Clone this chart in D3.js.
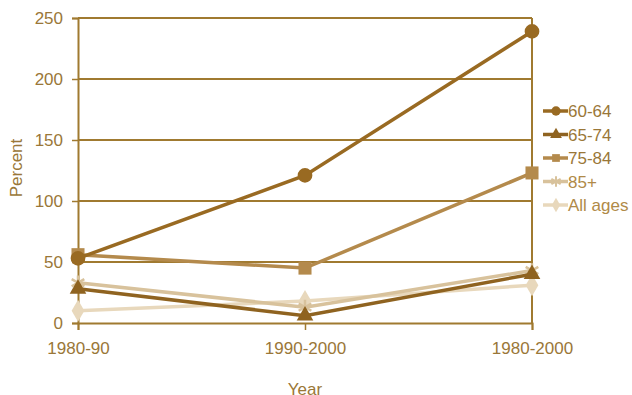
<!DOCTYPE html>
<html>
<head>
<meta charset="utf-8">
<script src="https://cdn.jsdelivr.net/npm/d3@7/dist/d3.min.js"></script>
<style>
  body { margin: 0; background: #fff; }
  svg { display: block; font-family: "Liberation Sans", Arial, sans-serif; }
</style>
</head>
<body>
<svg id="chart" width="632" height="395"></svg>
<script>
// periods on the x axis
const periods = ['1980-90', '1990-2000', '1980-2000'];
const yTicks = [0, 50, 100, 150, 200, 250];

// percent change per age group
const age6064 = [53, 121, 239];
const age6574 = [28, 6, 40];
const age7584 = [56, 45, 123];
const age85 = [33, 13, 43];
const allAges = [10, 18, 31];

const seriesNames = ['60-64', '65-74', '75-84', '85+', 'All ages'];
const seriesValues = [age6064, age6574, age7584, age85, allAges];
const seriesColors = ['#996a22', '#8f6320', '#b48a4c', '#d8c29c', '#e8d8bc'];
const seriesSymbols = ['circle', 'triangle', 'square', 'star', 'diamond'];

const axisColor = '#a07a30';
const textColor = '#9a7738';

const svg = d3.select('#chart');
const margin = { left: 78, right: 100, top: 18, bottom: 72 };
const width = 632 - margin.left - margin.right;
const height = 395 - margin.top - margin.bottom;

const x = d3.scalePoint().domain(periods).range([0, width]);
const y = d3.scaleLinear().domain([0, 250]).range([height, 0]);

const g = svg.append('g').attr('transform', `translate(${margin.left},${margin.top})`);

// cut-off title at the very top
svg.append('text')
  .attr('x', 390).attr('y', -4)
  .attr('text-anchor', 'middle')
  .attr('fill', textColor)
  .style('font-size', '17px')
  .text('Percentage change in population by age group');

// horizontal gridlines
g.selectAll('.grid')
  .data(yTicks.filter(d => d > 0))
  .join('line')
  .attr('x1', 0).attr('x2', width)
  .attr('y1', d => y(d)).attr('y2', d => y(d))
  .attr('stroke', axisColor).attr('stroke-width', 2);

// right border
g.append('line')
  .attr('x1', width).attr('x2', width)
  .attr('y1', 0).attr('y2', height)
  .attr('stroke', axisColor).attr('stroke-width', 2);

// y axis
const yAxis = g.append('g')
  .call(d3.axisLeft(y).tickValues(yTicks).tickSize(6).tickPadding(9));
yAxis.select('.domain').attr('stroke', axisColor).attr('stroke-width', 2);
yAxis.selectAll('.tick line').attr('stroke', axisColor).attr('stroke-width', 1.5);
yAxis.selectAll('.tick text').attr('fill', textColor).style('font-size', '17px');

// x axis
const xAxis = g.append('g')
  .attr('transform', `translate(0,${height})`)
  .call(d3.axisBottom(x).tickSize(7).tickPadding(12));
xAxis.select('.domain').attr('stroke', axisColor).attr('stroke-width', 2);
xAxis.selectAll('.tick line').attr('stroke', axisColor).attr('stroke-width', 1.5);
xAxis.selectAll('.tick text').attr('fill', textColor).style('font-size', '17px');

// axis titles
svg.append('text')
  .attr('transform', 'translate(22,168) rotate(-90)')
  .attr('text-anchor', 'middle')
  .attr('fill', textColor)
  .style('font-size', '17px')
  .text('Percent');

svg.append('text')
  .attr('x', margin.left + x('1990-2000')).attr('y', 395)
  .attr('text-anchor', 'middle')
  .attr('fill', textColor)
  .style('font-size', '17px')
  .text('Year');

function symbolPath(kind, size) {
  const types = {
    circle: d3.symbolCircle,
    triangle: d3.symbolTriangle,
    square: d3.symbolSquare,
    star: d3.symbolAsterisk,
    diamond: d3.symbolDiamond
  };
  return d3.symbol().type(types[kind]).size(size)();
}

const markerSize = { circle: 170, triangle: 120, square: 170, star: 150, diamond: 140 };
const legendSize = { circle: 70, triangle: 60, square: 60, star: 80, diamond: 60 };

const line = d3.line().x((d, i) => x(periods[i])).y(d => y(d));

// draw from lightest to darkest so darker lines sit on top
const order = [4, 3, 2, 1, 0];
order.forEach(k => {
  const vals = seriesValues[k];
  const sym = seriesSymbols[k];
  g.append('path')
    .datum(vals)
    .attr('d', line)
    .attr('fill', 'none')
    .attr('stroke', seriesColors[k])
    .attr('stroke-width', 3.5);
  g.selectAll(null)
    .data(vals)
    .join('path')
    .attr('transform', (d, i) => `translate(${x(periods[i])},${y(d)})`)
    .attr('d', symbolPath(sym, markerSize[sym]))
    .attr('fill', seriesColors[k])
    .attr('stroke', seriesColors[k])
    .attr('stroke-width', sym === 'star' ? 2.5 : 0);
});

// legend
const legend = svg.append('g').attr('transform', 'translate(543,111)');
seriesNames.forEach((name, k) => {
  const sym = seriesSymbols[k];
  const row = legend.append('g').attr('transform', `translate(0,${k * 23.5})`);
  row.append('line')
    .attr('x1', 0).attr('x2', 25)
    .attr('stroke', seriesColors[k]).attr('stroke-width', 3.5);
  row.append('path')
    .attr('transform', 'translate(13,0)')
    .attr('d', symbolPath(sym, legendSize[sym]))
    .attr('fill', seriesColors[k])
    .attr('stroke', seriesColors[k])
    .attr('stroke-width', sym === 'star' ? 2 : 0);
  row.append('text')
    .attr('x', 25).attr('y', 6)
    .attr('fill', k >= 3 ? '#b08a48' : textColor)
    .style('font-size', '17px')
    .text(name);
});
</script>
</body>
</html>
